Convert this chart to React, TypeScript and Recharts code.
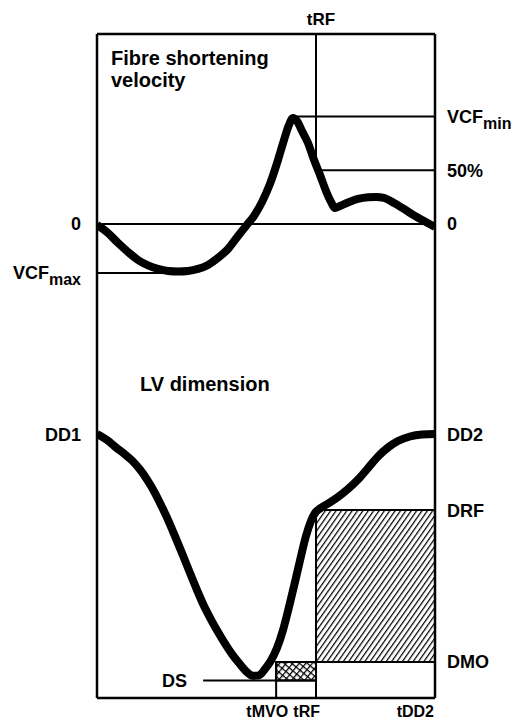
import React from 'react';
import {
  ComposedChart,
  Line,
  XAxis,
  YAxis,
  ReferenceLine,
  ReferenceArea,
  ReferenceDot,
} from 'recharts';

// ---- time axis (percent of the cycle) ----
const T_START = 0;
const T_MVO = 53;
const T_RF = 64.8;
const T_DD2 = 100;
const T_VCFMAX_END = 21.6;
const T_VCFMIN_START = 58;
const T_DS_START = 31.4;

// ---- fibre shortening velocity (percent of VCFmin) ----
const velocityTime = [
  0, 3.25, 6.21, 9.17, 12.13, 15.09, 18.05, 21.01, 23.96, 26.92, 29.88, 32.84, 35.8, 38.76, 41.72, 44.08,
  46.45, 48.82, 51.18, 53.55, 55.33, 56.8, 57.99, 59.17, 60.65, 62.43, 64.2, 65.98, 67.75, 69.23, 70.41,
  71.89, 74.26, 77.22, 80.18, 82.54, 84.91, 87.87, 90.83, 93.79, 96.75, 100,
];
const velocityValues = [
  -0.93, -8.37, -17.67, -26.05, -33.49, -38.6, -41.86, -43.72, -44.19, -43.72, -41.86, -38.14, -31.63, -23.26,
  -11.16, -1.86, 7.44, 20.47, 37.21, 59.53, 78.14, 92.09, 98.6, 95.81, 86.51, 75.35, 59.53, 45.58, 30.7, 20.47,
  14.88, 16.74, 20, 23.26, 24.84, 25.12, 24.19, 19.53, 13.95, 7.91, 2.79, -2.79,
];

const VCF_MIN = 100;
const VCF_HALF = 50;
const VCF_ZERO = 0;
const VCF_MAX = -45.6;
const V_DOMAIN: [number, number] = [-441, 176.7];

// ---- LV dimension (arbitrary units) ----
const dimensionTime = [
  0, 2.96, 5.62, 7.99, 10.36, 12.72, 15.09, 17.16, 19.23, 21.3, 23.37, 25.44, 27.51, 29.59, 31.66, 33.73,
  35.8, 37.87, 39.94, 42.01, 44.08, 46.15, 47.93, 49.7, 51.48, 53.25, 55.03, 56.8, 58.58, 60.36, 61.83,
  63.31, 64.5, 65.98, 68.34, 71.3, 74.26, 77.22, 80.18, 83.14, 86.09, 89.05, 92.6, 96.15, 100,
];
const dimensionValues = [
  49.92, 49.43, 48.83, 48.34, 47.78, 47.05, 46.12, 45.15, 44.02, 42.81, 41.47, 40.1, 38.69, 37.31, 36.02,
  34.93, 33.92, 32.99, 32.14, 31.41, 30.75, 30.38, 30.42, 30.93, 31.62, 32.63, 34.08, 35.94, 37.96, 40.06,
  41.68, 42.89, 43.54, 43.9, 44.3, 44.83, 45.47, 46.24, 47.17, 48.1, 48.83, 49.35, 49.72, 49.88, 49.92,
];

const DD1 = 49.84;
const DD2 = 49.84;
const DRF = 43.78;
const DMO = 31.5;
const DS = 30;
const D_DOMAIN: [number, number] = [28.59, 82.24];

// ---- tick labels ----
const rightVelocityLabels = [
  { value: VCF_MIN, text: 'VCF', sub: 'min' },
  { value: VCF_HALF, text: '50%', sub: '' },
  { value: VCF_ZERO, text: '0', sub: '' },
];
const leftVelocityLabels = [
  { value: VCF_ZERO, text: '0', sub: '' },
  { value: VCF_MAX, text: 'VCF', sub: 'max' },
];
const rightDimensionLabels = [
  { value: DD2, text: 'DD2' },
  { value: DRF, text: 'DRF' },
  { value: DMO, text: 'DMO' },
];
const leftDimensionLabels = [{ value: DD1, text: 'DD1' }];
const bottomTimeLabels = [
  { value: T_MVO, text: 'tMVO' },
  { value: T_RF, text: 'tRF' },
  { value: T_DD2, text: 'tDD2' },
];
const topTimeLabels = [{ value: T_RF, text: 'tRF' }];

const velocityData = velocityTime.map((t, i) => ({ t, v: velocityValues[i] }));
const dimensionData = dimensionTime.map((t, i) => ({ t, d: dimensionValues[i] }));

const FONT = '"Liberation Sans", Arial, Helvetica, sans-serif';
const INK = '#000';
const BOTTOM_NUDGE: Record<string, number> = { tMVO: 12, tRF: 4, tDD2: -1 };

const sideLabel = (text: string, sub: string, side: 'left' | 'right') => (props: any) => {
  const { cx, cy } = props;
  if (cx == null || cy == null) return <g />;
  const x = side === 'left' ? cx - 16 : cx + 12;
  return (
    <text
      x={x}
      y={cy + 6.5}
      textAnchor={side === 'left' ? 'end' : 'start'}
      fontFamily={FONT}
      fontWeight="bold"
      fontSize={18}
      fill={INK}
    >
      {text}
      {sub ? (
        <tspan fontSize={16} dy={6}>
          {sub}
        </tspan>
      ) : null}
    </text>
  );
};

const bottomLabel = (text: string) => (props: any) => {
  const { cx, cy } = props;
  if (cx == null || cy == null) return <g />;
  return (
    <text x={cx + (BOTTOM_NUDGE[text] || 0)} y={cy + 19} textAnchor="end" fontFamily={FONT} fontWeight="bold" fontSize={16} fill={INK}>
      {text}
    </text>
  );
};

const topLabel = (text: string) => (props: any) => {
  const { cx, cy } = props;
  if (cx == null || cy == null) return <g />;
  return (
    <text x={cx + 5} y={cy - 9} textAnchor="middle" fontFamily={FONT} fontWeight="bold" fontSize={17} fill={INK}>
      {text}
    </text>
  );
};

export default function App() {
  const W = 521;
  const H = 724;
  return (
    <div style={{ position: 'absolute', left: 0, top: 0, width: W, height: H, background: '#fff' }}>
      <ComposedChart width={W} height={H} margin={{ top: 34, right: 86, bottom: 26, left: 97 }}>
        <defs>
          <pattern id="hatch" patternUnits="userSpaceOnUse" width="4.4" height="4.4" patternTransform="rotate(35)">
            <line x1="0.6" y1="0" x2="0.6" y2="4.4" stroke={INK} strokeWidth="1.25" />
          </pattern>
          <pattern id="xhatch" patternUnits="userSpaceOnUse" width="5" height="5" patternTransform="rotate(40)">
            <line x1="0.6" y1="0" x2="0.6" y2="5" stroke={INK} strokeWidth="1.3" />
            <line x1="0" y1="0.6" x2="5" y2="0.6" stroke={INK} strokeWidth="1.3" />
          </pattern>
        </defs>
        <XAxis dataKey="t" type="number" domain={[T_START, T_DD2]} allowDataOverflow hide />
        <YAxis yAxisId="v" type="number" domain={V_DOMAIN} allowDataOverflow hide />
        <YAxis yAxisId="d" type="number" domain={D_DOMAIN} allowDataOverflow hide />

        {/* hatched areas */}
        <ReferenceArea yAxisId="d" x1={T_RF} x2={T_DD2} y1={DMO} y2={DRF} fill="url(#hatch)" fillOpacity={1} stroke={INK} strokeWidth={2} ifOverflow="visible" />
        <ReferenceArea yAxisId="d" x1={T_MVO} x2={T_RF} y1={DS} y2={DMO} fill="url(#xhatch)" fillOpacity={1} stroke={INK} strokeWidth={2} ifOverflow="visible" />

        {/* frame */}
        <ReferenceLine yAxisId="v" x={T_START} stroke={INK} strokeWidth={2.5} ifOverflow="visible" />
        <ReferenceLine yAxisId="v" x={T_DD2} stroke={INK} strokeWidth={2.5} ifOverflow="visible" />
        <ReferenceLine yAxisId="v" y={V_DOMAIN[1]} stroke={INK} strokeWidth={2.5} ifOverflow="visible" />
        <ReferenceLine yAxisId="d" y={D_DOMAIN[0]} stroke={INK} strokeWidth={2.5} ifOverflow="visible" />

        {/* velocity reference lines */}
        <ReferenceLine yAxisId="v" y={VCF_ZERO} stroke={INK} strokeWidth={2} ifOverflow="visible" />
        <ReferenceLine yAxisId="v" segment={[{ x: T_START, y: VCF_MAX }, { x: T_VCFMAX_END, y: VCF_MAX }]} stroke={INK} strokeWidth={2} ifOverflow="visible" />
        <ReferenceLine yAxisId="v" segment={[{ x: T_VCFMIN_START, y: VCF_MIN }, { x: T_DD2, y: VCF_MIN }]} stroke={INK} strokeWidth={2} ifOverflow="visible" />
        <ReferenceLine yAxisId="v" segment={[{ x: T_RF, y: VCF_HALF }, { x: T_DD2, y: VCF_HALF }]} stroke={INK} strokeWidth={2} ifOverflow="visible" />
        <ReferenceLine yAxisId="v" segment={[{ x: T_RF, y: V_DOMAIN[1] }, { x: T_RF, y: VCF_HALF }]} stroke={INK} strokeWidth={2} ifOverflow="visible" />

        {/* dimension reference lines */}
        <ReferenceLine yAxisId="d" segment={[{ x: T_DS_START, y: DS }, { x: T_RF, y: DS }]} stroke={INK} strokeWidth={2} ifOverflow="visible" />
        <ReferenceLine yAxisId="d" segment={[{ x: T_MVO, y: DMO }, { x: T_MVO, y: D_DOMAIN[0] }]} stroke={INK} strokeWidth={2} ifOverflow="visible" />
        <ReferenceLine yAxisId="d" segment={[{ x: T_RF, y: DRF }, { x: T_RF, y: D_DOMAIN[0] }]} stroke={INK} strokeWidth={2} ifOverflow="visible" />

        {/* curves */}
        <Line
          data={velocityData}
          dataKey="v"
          yAxisId="v"
          type="monotone"
          stroke={INK}
          strokeWidth={8}
          strokeLinejoin="round"
          dot={false}
          activeDot={false}
          isAnimationActive={false}
        />
        <Line
          data={dimensionData}
          dataKey="d"
          yAxisId="d"
          type="monotone"
          stroke={INK}
          strokeWidth={8}
          strokeLinejoin="round"
          dot={false}
          activeDot={false}
          isAnimationActive={false}
        />

        {/* labels */}
        {rightVelocityLabels.map((l) => (
          <ReferenceDot key={'rv' + l.text} yAxisId="v" x={T_DD2} y={l.value} r={0} ifOverflow="visible" shape={sideLabel(l.text, l.sub, 'right')} />
        ))}
        {leftVelocityLabels.map((l) => (
          <ReferenceDot key={'lv' + l.text} yAxisId="v" x={T_START} y={l.value} r={0} ifOverflow="visible" shape={sideLabel(l.text, l.sub, 'left')} />
        ))}
        {rightDimensionLabels.map((l) => (
          <ReferenceDot key={'rd' + l.text} yAxisId="d" x={T_DD2} y={l.value} r={0} ifOverflow="visible" shape={sideLabel(l.text, '', 'right')} />
        ))}
        {leftDimensionLabels.map((l) => (
          <ReferenceDot key={'ld' + l.text} yAxisId="d" x={T_START} y={l.value} r={0} ifOverflow="visible" shape={sideLabel(l.text, '', 'left')} />
        ))}
        <ReferenceDot yAxisId="d" x={T_DS_START} y={DS} r={0} ifOverflow="visible" shape={sideLabel('DS', '', 'left')} />
        {bottomTimeLabels.map((l) => (
          <ReferenceDot key={'bt' + l.text} yAxisId="d" x={l.value} y={D_DOMAIN[0]} r={0} ifOverflow="visible" shape={bottomLabel(l.text)} />
        ))}
        {topTimeLabels.map((l) => (
          <ReferenceDot key={'tt' + l.text} yAxisId="v" x={l.value} y={V_DOMAIN[1]} r={0} ifOverflow="visible" shape={topLabel(l.text)} />
        ))}
      </ComposedChart>
      <div
        style={{
          position: 'absolute',
          left: 111,
          top: 47,
          fontFamily: FONT,
          fontWeight: 'bold',
          fontSize: 20,
          lineHeight: '22px',
          color: INK,
          whiteSpace: 'pre',
        }}
      >
        {'Fibre shortening\nvelocity'}
      </div>
      <div
        style={{
          position: 'absolute',
          left: 140,
          top: 373,
          fontFamily: FONT,
          fontWeight: 'bold',
          fontSize: 20,
          lineHeight: '22px',
          color: INK,
          whiteSpace: 'pre',
        }}
      >
        LV dimension
      </div>
    </div>
  );
}
